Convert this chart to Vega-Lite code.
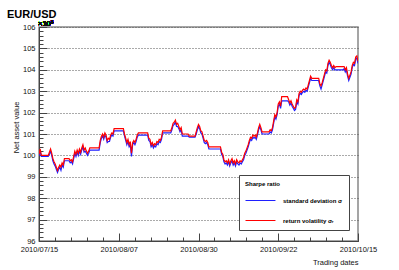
{
"$schema":"https://vega.github.io/schema/vega-lite/v6.json",
"width":319,"height":214,
"autosize":{"type":"none"},
"padding":{"left":39,"top":27,"right":41,"bottom":29},
"background":"white",
"title":{"text":"EUR/USD","anchor":"start","frame":"group","font":"Liberation Sans","fontSize":11,"fontWeight":"bold","color":"#000","dx":-32,"dy":11,"offset":2,"baseline":"alphabetic"},
"config":{"font":"Liberation Sans","view":{"stroke":"#888","strokeWidth":1.5},"axis":{"labelFont":"Liberation Sans","titleFont":"Liberation Sans","labelColor":"#111","titleColor":"#111","domainColor":"#444","tickColor":"#444"}},
"data":{"values":[
{"t":"2010-07-15T00:00","b":99.98,"r":100.05},
{"t":"2010-07-15T08:00","b":100.2,"r":100.3},
{"t":"2010-07-15T16:00","b":99.95,"r":100.0},
{"t":"2010-07-17T16:00","b":99.95,"r":100.0},
{"t":"2010-07-18T00:00","b":100.05,"r":100.15},
{"t":"2010-07-18T08:00","b":100.2,"r":100.3},
{"t":"2010-07-18T16:00","b":100.0,"r":100.1},
{"t":"2010-07-19T00:00","b":99.75,"r":99.85},
{"t":"2010-07-19T08:00","b":99.6,"r":99.7},
{"t":"2010-07-19T16:00","b":99.5,"r":99.6},
{"t":"2010-07-20T00:00","b":99.35,"r":99.45},
{"t":"2010-07-20T08:00","b":99.2,"r":99.3},
{"t":"2010-07-20T16:00","b":99.35,"r":99.45},
{"t":"2010-07-21T00:00","b":99.45,"r":99.55},
{"t":"2010-07-21T08:00","b":99.3,"r":99.45},
{"t":"2010-07-21T16:00","b":99.55,"r":99.65},
{"t":"2010-07-22T00:00","b":99.45,"r":99.55},
{"t":"2010-07-22T08:00","b":99.75,"r":99.85},
{"t":"2010-07-23T16:00","b":99.75,"r":99.85},
{"t":"2010-07-24T00:00","b":99.65,"r":99.75},
{"t":"2010-07-24T08:00","b":99.7,"r":99.8},
{"t":"2010-07-24T16:00","b":99.6,"r":99.7},
{"t":"2010-07-25T00:00","b":99.85,"r":99.95},
{"t":"2010-07-25T08:00","b":100.1,"r":100.2},
{"t":"2010-07-25T16:00","b":99.95,"r":100.05},
{"t":"2010-07-26T00:00","b":100.15,"r":100.25},
{"t":"2010-07-26T08:00","b":100.0,"r":100.1},
{"t":"2010-07-26T16:00","b":100.2,"r":100.3},
{"t":"2010-07-27T00:00","b":100.05,"r":100.15},
{"t":"2010-07-27T08:00","b":100.25,"r":100.35},
{"t":"2010-07-27T16:00","b":100.4,"r":100.5},
{"t":"2010-07-28T00:00","b":100.15,"r":100.25},
{"t":"2010-07-28T08:00","b":100.2,"r":100.35},
{"t":"2010-07-28T16:00","b":100.1,"r":100.2},
{"t":"2010-07-29T00:00","b":100.0,"r":100.1},
{"t":"2010-07-29T08:00","b":100.1,"r":100.2},
{"t":"2010-07-29T16:00","b":100.25,"r":100.35},
{"t":"2010-08-01T08:00","b":100.25,"r":100.35},
{"t":"2010-08-01T16:00","b":100.6,"r":100.7},
{"t":"2010-08-02T00:00","b":100.8,"r":100.9},
{"t":"2010-08-02T08:00","b":100.9,"r":101.0},
{"t":"2010-08-02T16:00","b":100.75,"r":100.85},
{"t":"2010-08-03T00:00","b":100.95,"r":101.05},
{"t":"2010-08-03T08:00","b":100.85,"r":100.95},
{"t":"2010-08-03T16:00","b":100.6,"r":100.7},
{"t":"2010-08-04T00:00","b":100.65,"r":100.8},
{"t":"2010-08-04T08:00","b":100.65,"r":100.75},
{"t":"2010-08-04T16:00","b":100.85,"r":100.95},
{"t":"2010-08-05T00:00","b":100.95,"r":101.05},
{"t":"2010-08-05T08:00","b":100.9,"r":101.0},
{"t":"2010-08-05T16:00","b":101.15,"r":101.25},
{"t":"2010-08-08T08:00","b":101.15,"r":101.25},
{"t":"2010-08-08T16:00","b":100.9,"r":101.0},
{"t":"2010-08-09T00:00","b":100.7,"r":100.8},
{"t":"2010-08-09T08:00","b":100.5,"r":100.6},
{"t":"2010-08-09T16:00","b":100.65,"r":100.75},
{"t":"2010-08-10T00:00","b":100.4,"r":100.5},
{"t":"2010-08-10T08:00","b":100.5,"r":100.65},
{"t":"2010-08-10T16:00","b":99.95,"r":100.1},
{"t":"2010-08-11T00:00","b":100.5,"r":100.6},
{"t":"2010-08-11T08:00","b":100.6,"r":100.7},
{"t":"2010-08-11T16:00","b":100.5,"r":100.6},
{"t":"2010-08-12T00:00","b":100.65,"r":100.75},
{"t":"2010-08-12T08:00","b":100.85,"r":100.95},
{"t":"2010-08-12T16:00","b":100.95,"r":101.05},
{"t":"2010-08-15T08:00","b":100.95,"r":101.05},
{"t":"2010-08-15T16:00","b":100.7,"r":100.8},
{"t":"2010-08-16T00:00","b":100.65,"r":100.75},
{"t":"2010-08-16T08:00","b":100.4,"r":100.5},
{"t":"2010-08-16T16:00","b":100.5,"r":100.6},
{"t":"2010-08-17T00:00","b":100.35,"r":100.45},
{"t":"2010-08-17T08:00","b":100.45,"r":100.55},
{"t":"2010-08-17T16:00","b":100.4,"r":100.5},
{"t":"2010-08-18T00:00","b":100.55,"r":100.65},
{"t":"2010-08-18T08:00","b":100.5,"r":100.6},
{"t":"2010-08-18T16:00","b":100.65,"r":100.75},
{"t":"2010-08-19T00:00","b":100.6,"r":100.7},
{"t":"2010-08-19T08:00","b":100.75,"r":100.85},
{"t":"2010-08-19T16:00","b":101.05,"r":101.15},
{"t":"2010-08-22T00:00","b":101.05,"r":101.15},
{"t":"2010-08-22T08:00","b":101.2,"r":101.3},
{"t":"2010-08-22T16:00","b":101.4,"r":101.5},
{"t":"2010-08-23T00:00","b":101.45,"r":101.55},
{"t":"2010-08-23T08:00","b":101.55,"r":101.65},
{"t":"2010-08-23T16:00","b":101.35,"r":101.45},
{"t":"2010-08-24T00:00","b":101.35,"r":101.5},
{"t":"2010-08-24T08:00","b":101.25,"r":101.35},
{"t":"2010-08-24T16:00","b":101.1,"r":101.2},
{"t":"2010-08-25T00:00","b":101.2,"r":101.3},
{"t":"2010-08-25T08:00","b":100.9,"r":101.0},
{"t":"2010-08-27T00:00","b":100.9,"r":101.0},
{"t":"2010-08-27T08:00","b":100.85,"r":100.9},
{"t":"2010-08-29T00:00","b":100.85,"r":100.9},
{"t":"2010-08-29T08:00","b":101.0,"r":101.1},
{"t":"2010-08-29T16:00","b":101.2,"r":101.3},
{"t":"2010-08-30T00:00","b":101.35,"r":101.45},
{"t":"2010-08-30T08:00","b":101.25,"r":101.35},
{"t":"2010-08-30T16:00","b":101.05,"r":101.15},
{"t":"2010-08-31T00:00","b":101.0,"r":101.1},
{"t":"2010-08-31T08:00","b":100.8,"r":100.9},
{"t":"2010-08-31T16:00","b":100.6,"r":100.7},
{"t":"2010-09-01T00:00","b":100.55,"r":100.65},
{"t":"2010-09-01T08:00","b":100.6,"r":100.7},
{"t":"2010-09-01T16:00","b":100.5,"r":100.6},
{"t":"2010-09-02T00:00","b":100.3,"r":100.4},
{"t":"2010-09-05T08:00","b":100.3,"r":100.4},
{"t":"2010-09-05T16:00","b":100.05,"r":100.15},
{"t":"2010-09-06T00:00","b":99.95,"r":100.05},
{"t":"2010-09-06T08:00","b":99.7,"r":99.8},
{"t":"2010-09-06T16:00","b":99.6,"r":99.7},
{"t":"2010-09-07T00:00","b":99.65,"r":99.75},
{"t":"2010-09-07T08:00","b":99.55,"r":99.65},
{"t":"2010-09-07T16:00","b":99.7,"r":99.8},
{"t":"2010-09-08T00:00","b":99.5,"r":99.6},
{"t":"2010-09-08T08:00","b":99.65,"r":99.75},
{"t":"2010-09-08T16:00","b":99.75,"r":99.85},
{"t":"2010-09-09T00:00","b":99.55,"r":99.65},
{"t":"2010-09-09T08:00","b":99.65,"r":99.75},
{"t":"2010-09-09T16:00","b":99.5,"r":99.6},
{"t":"2010-09-10T00:00","b":99.7,"r":99.8},
{"t":"2010-09-10T08:00","b":99.6,"r":99.7},
{"t":"2010-09-10T16:00","b":99.55,"r":99.65},
{"t":"2010-09-11T00:00","b":99.65,"r":99.75},
{"t":"2010-09-11T08:00","b":99.6,"r":99.7},
{"t":"2010-09-11T16:00","b":99.7,"r":99.8},
{"t":"2010-09-12T00:00","b":99.8,"r":99.9},
{"t":"2010-09-12T08:00","b":100.0,"r":100.1},
{"t":"2010-09-12T16:00","b":100.1,"r":100.2},
{"t":"2010-09-13T00:00","b":100.25,"r":100.35},
{"t":"2010-09-13T08:00","b":100.4,"r":100.5},
{"t":"2010-09-13T16:00","b":100.6,"r":100.7},
{"t":"2010-09-14T00:00","b":100.75,"r":100.85},
{"t":"2010-09-14T08:00","b":100.7,"r":100.8},
{"t":"2010-09-14T16:00","b":100.85,"r":100.95},
{"t":"2010-09-15T00:00","b":100.8,"r":100.9},
{"t":"2010-09-15T08:00","b":100.85,"r":100.95},
{"t":"2010-09-15T16:00","b":100.75,"r":100.85},
{"t":"2010-09-16T00:00","b":100.95,"r":101.05},
{"t":"2010-09-16T08:00","b":101.2,"r":101.3},
{"t":"2010-09-16T16:00","b":101.35,"r":101.45},
{"t":"2010-09-17T00:00","b":101.2,"r":101.3},
{"t":"2010-09-17T08:00","b":101.0,"r":101.1},
{"t":"2010-09-19T08:00","b":101.0,"r":101.1},
{"t":"2010-09-19T16:00","b":101.1,"r":101.2},
{"t":"2010-09-20T00:00","b":101.05,"r":101.15},
{"t":"2010-09-20T08:00","b":101.2,"r":101.3},
{"t":"2010-09-20T16:00","b":101.5,"r":101.6},
{"t":"2010-09-21T00:00","b":101.8,"r":101.9},
{"t":"2010-09-21T08:00","b":101.7,"r":101.8},
{"t":"2010-09-21T16:00","b":101.9,"r":102.0},
{"t":"2010-09-22T00:00","b":102.3,"r":102.4},
{"t":"2010-09-22T08:00","b":102.4,"r":102.5},
{"t":"2010-09-22T16:00","b":102.2,"r":102.3},
{"t":"2010-09-23T00:00","b":102.55,"r":102.75},
{"t":"2010-09-24T16:00","b":102.55,"r":102.75},
{"t":"2010-09-25T00:00","b":102.5,"r":102.6},
{"t":"2010-09-25T08:00","b":102.35,"r":102.45},
{"t":"2010-09-25T16:00","b":102.45,"r":102.55},
{"t":"2010-09-26T00:00","b":102.3,"r":102.4},
{"t":"2010-09-26T08:00","b":102.2,"r":102.3},
{"t":"2010-09-26T16:00","b":102.1,"r":102.2},
{"t":"2010-09-27T00:00","b":102.15,"r":102.25},
{"t":"2010-09-27T08:00","b":102.5,"r":102.6},
{"t":"2010-09-27T16:00","b":102.4,"r":102.5},
{"t":"2010-09-28T00:00","b":102.8,"r":102.9},
{"t":"2010-09-28T08:00","b":102.9,"r":103.0},
{"t":"2010-09-28T16:00","b":102.85,"r":102.95},
{"t":"2010-09-29T00:00","b":102.95,"r":103.05},
{"t":"2010-09-29T08:00","b":103.0,"r":103.1},
{"t":"2010-09-29T16:00","b":102.95,"r":103.05},
{"t":"2010-09-30T00:00","b":103.05,"r":103.15},
{"t":"2010-09-30T08:00","b":103.0,"r":103.1},
{"t":"2010-09-30T16:00","b":103.2,"r":103.3},
{"t":"2010-10-01T00:00","b":103.4,"r":103.5},
{"t":"2010-10-01T08:00","b":103.6,"r":103.7},
{"t":"2010-10-01T16:00","b":103.5,"r":103.6},
{"t":"2010-10-03T16:00","b":103.5,"r":103.6},
{"t":"2010-10-04T00:00","b":103.25,"r":103.35},
{"t":"2010-10-04T08:00","b":103.1,"r":103.25},
{"t":"2010-10-04T16:00","b":103.3,"r":103.4},
{"t":"2010-10-05T00:00","b":103.5,"r":103.6},
{"t":"2010-10-05T08:00","b":103.7,"r":103.8},
{"t":"2010-10-05T16:00","b":103.9,"r":104.0},
{"t":"2010-10-06T00:00","b":103.85,"r":103.95},
{"t":"2010-10-06T08:00","b":104.2,"r":104.3},
{"t":"2010-10-06T16:00","b":104.35,"r":104.45},
{"t":"2010-10-07T00:00","b":104.25,"r":104.35},
{"t":"2010-10-07T08:00","b":104.1,"r":104.2},
{"t":"2010-10-07T16:00","b":104.0,"r":104.1},
{"t":"2010-10-08T00:00","b":104.1,"r":104.2},
{"t":"2010-10-08T08:00","b":104.0,"r":104.1},
{"t":"2010-10-08T16:00","b":104.0,"r":104.15},
{"t":"2010-10-10T16:00","b":104.0,"r":104.15},
{"t":"2010-10-11T00:00","b":104.05,"r":104.15},
{"t":"2010-10-11T08:00","b":103.9,"r":104.0},
{"t":"2010-10-11T16:00","b":104.0,"r":104.1},
{"t":"2010-10-12T00:00","b":103.7,"r":103.8},
{"t":"2010-10-12T08:00","b":103.5,"r":103.6},
{"t":"2010-10-12T16:00","b":103.65,"r":103.75},
{"t":"2010-10-13T00:00","b":103.8,"r":103.9},
{"t":"2010-10-13T08:00","b":104.1,"r":104.2},
{"t":"2010-10-13T16:00","b":104.25,"r":104.35},
{"t":"2010-10-14T00:00","b":104.2,"r":104.3},
{"t":"2010-10-14T08:00","b":104.5,"r":104.6},
{"t":"2010-10-14T16:00","b":104.55,"r":104.65},
{"t":"2010-10-15T00:00","b":104.3,"r":104.4}
]},
"layer":[
{
"transform":[{"fold":["b","r"],"as":["key","value"]}],
"mark":{"type":"line","strokeWidth":1.2,"clip":true},
"encoding":{
"x":{"field":"t","type":"temporal",
 "scale":{"domain":[{"year":2010,"month":7,"date":15},{"year":2010,"month":10,"date":15}]},
 "axis":{"values":[{"year":2010,"month":7,"date":15},{"year":2010,"month":8,"date":7},{"year":2010,"month":8,"date":30},{"year":2010,"month":9,"date":22},{"year":2010,"month":10,"date":15}],
  "format":"%Y/%m/%d","labelFontSize":7.5,"tickSize":-8,"labelPadding":12,"grid":false,
  "title":"Trading dates","titleAnchor":"end","titleFontSize":7.5,"titleFontWeight":"normal","titlePadding":6,"labelFlush":false,"labelOverlap":false}},
"y":{"field":"value","type":"quantitative",
 "scale":{"domain":[96,106],"nice":false,"zero":false},
 "axis":{"values":[96,97,98,99,100,101,102,103,104,105,106],"format":"d","labelFontSize":7.5,"tickSize":-8,"labelPadding":12,
  "grid":true,"gridDash":[1,2],"gridColor":"#555","gridOpacity":1,
  "title":"Net asset value","titleFontSize":7.5,"titleFontWeight":"normal","titlePadding":2,"titleY":100,"labelOverlap":false}},
"color":{"field":"key","type":"nominal",
 "scale":{"domain":["b","r"],"range":["#1f1fff","#ff0000"]},
 "legend":{"orient":"none","legendX":200,"legendY":148,"title":"Sharpe ratio",
  "labelExpr":"datum.label == 'b' ? 'standard deviation σ' : 'return volatility σᵣ'",
  "fillColor":"white","strokeColor":"#444","padding":6,
  "titleFont":"Liberation Sans","titleFontSize":6,"titleFontWeight":"bold","titleColor":"#000","titlePadding":4,
  "labelFont":"Liberation Sans","labelFontSize":6,"labelFontWeight":"bold","labelColor":"#000","labelOffset":19,
  "symbolType":"M-1,0H2.33","symbolSize":324,"symbolStrokeWidth":1,"symbolFillColor":"transparent","rowPadding":7}}
}
},
{
"mark":{"type":"text","align":"left","baseline":"alphabetic","dx":-1,"dy":-1,"fontSize":7.5,"font":"Liberation Sans","color":"#111"},
"encoding":{
"x":{"datum":{"year":2010,"month":7,"date":15},"type":"temporal",
 "axis":{"orient":"bottom","values":[{"year":2010,"month":7,"date":15},{"year":2010,"month":7,"date":19,"hours":14,"minutes":24},{"year":2010,"month":7,"date":24,"hours":4,"minutes":48},{"year":2010,"month":7,"date":28,"hours":19,"minutes":12},{"year":2010,"month":8,"date":2,"hours":9,"minutes":36},{"year":2010,"month":8,"date":7},{"year":2010,"month":8,"date":11,"hours":14,"minutes":24},{"year":2010,"month":8,"date":16,"hours":4,"minutes":48},{"year":2010,"month":8,"date":20,"hours":19,"minutes":12},{"year":2010,"month":8,"date":25,"hours":9,"minutes":36},{"year":2010,"month":8,"date":30},{"year":2010,"month":9,"date":3,"hours":14,"minutes":24},{"year":2010,"month":9,"date":8,"hours":4,"minutes":48},{"year":2010,"month":9,"date":12,"hours":19,"minutes":12},{"year":2010,"month":9,"date":17,"hours":9,"minutes":36},{"year":2010,"month":9,"date":22},{"year":2010,"month":9,"date":26,"hours":14,"minutes":24},{"year":2010,"month":10,"date":1,"hours":4,"minutes":48},{"year":2010,"month":10,"date":5,"hours":19,"minutes":12},{"year":2010,"month":10,"date":10,"hours":9,"minutes":36},{"year":2010,"month":10,"date":15}],
  "labels":false,"domain":false,"grid":false,"title":null,"tickSize":-4}},
"y":{"datum":106,"type":"quantitative",
 "axis":{"orient":"left","values":[96,96.2,96.4,96.6,96.8,97,97.2,97.4,97.6,97.8,98,98.2,98.4,98.6,98.8,99,99.2,99.4,99.6,99.8,100,100.2,100.4,100.6,100.8,101,101.2,101.4,101.6,101.8,102,102.2,102.4,102.6,102.8,103,103.2,103.4,103.6,103.8,104,104.2,104.4,104.6,104.8,105,105.2,105.4,105.6,105.8,106],
  "labels":false,"domain":false,"grid":false,"title":null,"tickSize":-4}},
"text":{"value":"×10³"}
}
}
],
"resolve":{"axis":{"x":"independent","y":"independent"}}
}
